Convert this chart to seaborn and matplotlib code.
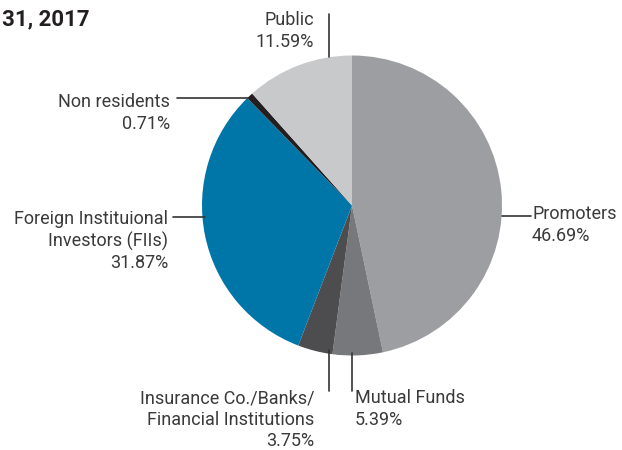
import matplotlib.pyplot as plt
import seaborn as sns

# shareholding categories, clockwise from 12 o'clock
categories = ['Promoters', 'Mutual Funds', 'Insurance Co./Banks/\nFinancial Institutions',
              'Foreign Instituional\nInvestors (FIIs)', 'Non residents', 'Public']
shares = [46.69, 5.39, 3.75, 31.87, 0.71, 11.59]
colors = ['#9d9ea1', '#77787b', '#4d4d4f', '#0076a8', '#231f20', '#c8c9cb']

# label anchor (px), alignment, leader line (px)
label_spots = [
    ((532, 225), 'left', ((502, 216), (531, 216))),
    ((355, 409), 'left', ((352, 353), (352, 391))),
    ((314, 420), 'right', ((329, 350), (329, 391))),
    ((168, 241), 'right', ((173, 217), (205, 217))),
    ((170, 113), 'right', ((177, 98), (248, 98))),
    ((314, 31), 'right', ((329, 14), (329, 57))),
]

sns.set_theme(style='white')
plt.rcParams['font.family'] = ['Roboto', 'DejaVu Sans']

W, H = 622, 450
fig = plt.figure(figsize=(W / 100, H / 100), dpi=100)
ax = fig.add_axes([0, 0, 1, 1])

ax.pie(shares, colors=colors, startangle=90, counterclock=False,
       center=(352, H - 205.5), radius=150, wedgeprops=dict(linewidth=0),
       frame=True)
ax.set_xlim(0, W)
ax.set_ylim(0, H)
ax.set_aspect('equal')
ax.axis('off')

for name, val, (pos, ha, line) in zip(categories, shares, label_spots):
    (x0, y0), (x1, y1) = line
    ax.plot([x0, x1], [H - y0, H - y1], color='#333333', lw=1.2)
    ax.text(pos[0], H - pos[1], f'{name}\n{val:.2f}%', ha=ha, va='center',
            fontsize=13, color='#3a3a3a', linespacing=1.22)

ax.text(2, H - 19, '31, 2017', ha='left', va='center', fontsize=16,
        fontweight='bold', color='#231f20')

fig.savefig('out.png', dpi=100)
